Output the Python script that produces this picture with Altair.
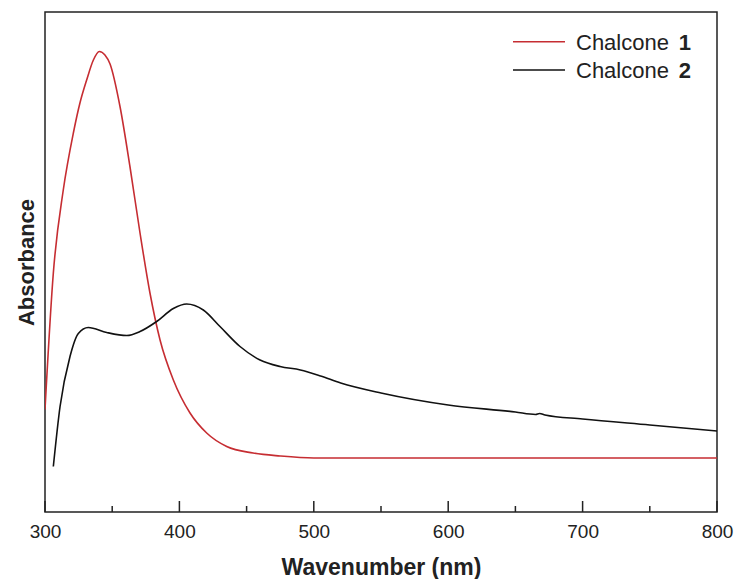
import altair as alt
import pandas as pd

# Chalcone 1 (red)
wl1 = [300, 306.2, 313.6, 321.1, 326, 331, 336, 340.4, 344.6, 348.4, 355.8, 363.2, 370.7,
       378.1, 385.6, 395.5, 407.9, 420.3, 435.2, 454.8, 474.9, 500, 550, 600, 650, 700, 750, 800]
a1 = [0.205, 0.478, 0.644, 0.758, 0.818, 0.864, 0.904, 0.921, 0.914, 0.896, 0.811, 0.691, 0.558,
      0.438, 0.344, 0.264, 0.198, 0.158, 0.131, 0.118, 0.112, 0.108, 0.108, 0.108, 0.108, 0.108,
      0.108, 0.108]

# Chalcone 2 (black)
wl2 = [306.2, 311.2, 318.6, 324.8, 332.2, 345.9, 360.8, 370.7, 383.1, 395.5, 405.4, 417.8,
       430.2, 445.1, 460, 474.9, 490, 505, 520, 550, 600, 650, 665, 668, 672, 700, 750, 800]
a2 = [0.091, 0.211, 0.311, 0.357, 0.369, 0.359, 0.353, 0.361, 0.381, 0.407, 0.416, 0.404,
      0.371, 0.331, 0.304, 0.291, 0.284, 0.272, 0.258, 0.238, 0.214, 0.200, 0.195, 0.197, 0.194,
      0.186, 0.174, 0.162]

series_names = ["Chalcone 1", "Chalcone 2"]
series_colors = ["#c62d32", "#111111"]

major_ticks = [300, 400, 500, 600, 700, 800]
minor_ticks = [350, 450, 550, 650, 750]

legend_words = ["Chalcone", "Chalcone"]
legend_nums = ["1", "2"]

W, H = 672, 500

df = pd.DataFrame(
    {"wl": wl1 + wl2, "abs": a1 + a2,
     "series": [series_names[0]] * len(wl1) + [series_names[1]] * len(wl2)}
)

xscale = alt.Scale(domain=[300, 800], nice=False, zero=False)
yscale = alt.Scale(domain=[0, 1], nice=False, zero=False)

lines = alt.Chart(df).mark_line(strokeWidth=1.6, interpolate="monotone", clip=True).encode(
    x=alt.X("wl:Q", scale=xscale,
            axis=alt.Axis(values=major_ticks, ticks=False, domain=False, grid=False,
                          labelFlush=False, labelOverlap=False,
                          labelFontSize=19, labelFont="Liberation Sans", labelColor="#222",
                          labelPadding=10, title="Wavenumber (nm)", titleFontSize=23,
                          titleFont="Liberation Sans", titleFontWeight="bold", titleColor="#222",
                          titleBaseline="alphabetic", titleY=62)),
    y=alt.Y("abs:Q", scale=yscale,
            axis=alt.Axis(labels=False, ticks=False, domain=False, grid=False,
                          title="Absorbance", titleFontSize=22, titleFont="Liberation Sans",
                          titleFontWeight="bold", titleColor="#222",
                          titleBaseline="alphabetic", titleX=-12, titleY=250)),
    color=alt.Color("series:N", scale=alt.Scale(domain=series_names, range=series_colors),
                    legend=None),
)

major = alt.Chart(pd.DataFrame({"t": major_ticks})).mark_rule(color="#222", strokeWidth=1.5).encode(
    x=alt.X("t:Q", scale=xscale), y=alt.value(H), y2=alt.value(H - 11)
)
minor = alt.Chart(pd.DataFrame({"t": minor_ticks})).mark_rule(color="#222", strokeWidth=1.5).encode(
    x=alt.X("t:Q", scale=xscale), y=alt.value(H), y2=alt.value(H - 6)
)

leg = pd.DataFrame({"name": series_names, "word": legend_words, "num": legend_nums,
                    "row": [0, 1]})
leg_y = {0: 29.7, 1: 58}
leg_lines = []
leg_texts = []
for i in range(2):
    sub = leg[leg["row"] == i]
    leg_lines.append(
        alt.Chart(sub).mark_rule(color=series_colors[i], strokeWidth=1.6).encode(
            x=alt.value(468), x2=alt.value(520), y=alt.value(leg_y[i])
        )
    )
    leg_texts.append(
        alt.Chart(sub).mark_text(align="left", baseline="middle", fontSize=22,
                                 font="Liberation Sans", color="#222").encode(
            x=alt.value(531), y=alt.value(leg_y[i] + 1), text="word:N"
        )
    )
    leg_texts.append(
        alt.Chart(sub).mark_text(align="right", baseline="middle", fontSize=22,
                                 font="Liberation Sans", fontWeight="bold", color="#222").encode(
            x=alt.value(646), y=alt.value(leg_y[i] + 1), text="num:N"
        )
    )

chart = alt.layer(lines, major, minor, *leg_lines, *leg_texts).properties(
    width=W, height=H,
    autosize=alt.AutoSizeParams(type="none"),
    padding={"left": 45, "top": 12, "right": 17, "bottom": 67},
).configure(background="white").configure_view(stroke="#222", strokeWidth=1.5)

chart.save("out.html", embed_options={"renderer": "svg", "actions": False})
